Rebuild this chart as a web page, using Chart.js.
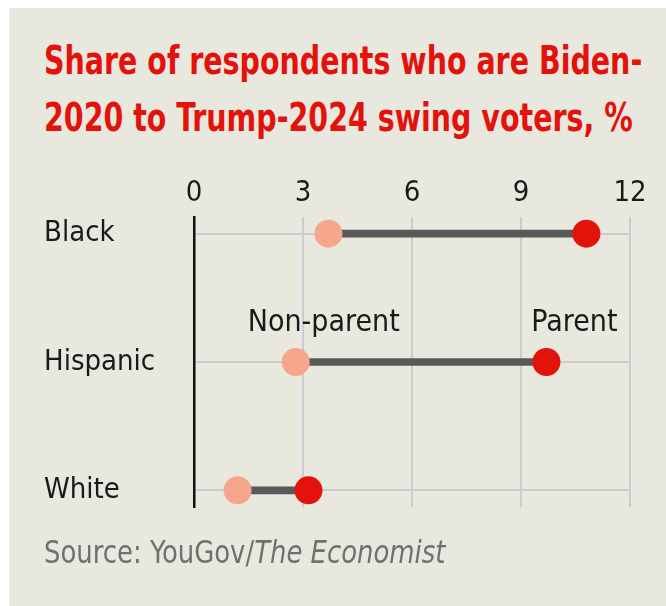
<!DOCTYPE html>
<html>
<head>
<meta charset="utf-8">
<script src="https://cdn.jsdelivr.net/npm/chart.js@4.4.0/dist/chart.umd.min.js"></script>
<style>
  html, body { margin: 0; padding: 0; background: #ffffff; }
  body { width: 666px; height: 606px; position: relative; overflow: hidden; }
  .panel { position: absolute; left: 9px; top: 8px; width: 657px; height: 598px; background: #e9e8df; }
  .title {
    position: absolute; left: 44px; top: 32px; margin: 0;
    font-family: "Liberation Sans Narrow", "DejaVu Sans Condensed", Roboto, sans-serif;
    font-stretch: condensed;
    font-weight: bold; font-size: 39px; line-height: 57px; color: #e3120b;
    white-space: nowrap;
    transform: scaleX(0.812); transform-origin: left top;
  }
  .source {
    position: absolute; left: 44px; top: 533px;
    font-family: "Liberation Sans Narrow", "DejaVu Sans Condensed", Roboto, sans-serif;
    font-stretch: condensed;
    font-size: 32px; color: #707070; white-space: nowrap;
    transform: scaleX(0.9); transform-origin: left top;
  }
  canvas { position: absolute; left: 0; top: 0; }
</style>
</head>
<body>
<div class="panel"></div>
<div class="title">Share of respondents who are Biden-<br>2020 to Trump-2024 swing voters, %</div>
<canvas id="chart" width="666" height="606"></canvas>
<div class="source">Source: YouGov/<i>The Economist</i></div>
<script>
const groups = ['Black', 'Hispanic', 'White'];
const nonParent = [3.7, 2.8, 1.2];
const parent = [10.8, 9.7, 3.15];
const xTicks = [0, 3, 6, 9, 12];

const fontFamily = '"Liberation Sans Narrow", "DejaVu Sans Condensed", Roboto, sans-serif';

// labels "Non-parent" / "Parent" sit above the Hispanic row
const labelPlugin = {
    id: 'pointLabels',
    afterDatasetsDraw(chart) {
        const ctx = chart.ctx;
        const x = chart.scales.x;
        const y = chart.scales.y;
        const row = groups.indexOf('Hispanic');
        ctx.save();
        ctx.font = '30px ' + fontFamily;
        ctx.fillStyle = '#1a1a1a';
        ctx.textAlign = 'center';
        ctx.textBaseline = 'alphabetic';
        ctx.fillText('Non-parent', x.getPixelForValue(nonParent[row]) + 28, y.getPixelForValue(row) - 31);
        ctx.fillText('Parent', x.getPixelForValue(parent[row]) + 28, y.getPixelForValue(row) - 31);
        ctx.restore();
    }
};

new Chart(document.getElementById('chart'), {
    type: 'bar',
    data: {
        datasets: [
            {
                type: 'line',
                label: 'Non-parent',
                data: nonParent.map((v, i) => ({ x: v, y: i })),
                showLine: false,
                pointRadius: 14,
                pointBackgroundColor: '#f6a68a',
                pointBorderWidth: 0,
                order: 1
            },
            {
                type: 'line',
                label: 'Parent',
                data: parent.map((v, i) => ({ x: v, y: i })),
                showLine: false,
                pointRadius: 14,
                pointBackgroundColor: '#e3120b',
                pointBorderWidth: 0,
                order: 0
            },
            {
                type: 'bar',
                label: 'Gap',
                data: nonParent.map((v, i) => ({ x: [v, parent[i]], y: i })),
                backgroundColor: '#595959',
                barThickness: 7,
                order: 2
            }
        ]
    },
    options: {
        indexAxis: 'y',
        responsive: false,
        animation: false,
        layout: { padding: { left: 44, right: 36, top: 167, bottom: 99 } },
        plugins: { legend: { display: false }, tooltip: { enabled: false } },
        scales: {
            x: {
                type: 'linear',
                position: 'top',
                min: 0,
                max: 12,
                afterBuildTicks: (axis) => { axis.ticks = xTicks.map(v => ({ value: v })); },
                afterFit: (axis) => { axis.height = 50; },
                grid: { color: '#c9ccd2', lineWidth: 2, drawTicks: false },
                border: { display: false },
                ticks: { color: '#1a1a1a', font: { family: fontFamily, size: 29 }, padding: 6 }
            },
            y: {
                type: 'linear',
                min: -0.13,
                max: 2.13,
                reverse: true,
                offset: false,
                afterBuildTicks: (axis) => { axis.ticks = groups.map((g, i) => ({ value: i })); },
                afterFit: (axis) => { axis.width = 150; },
                grid: { color: '#c9ccd2', lineWidth: 2, drawTicks: false, offset: false },
                border: { display: true, color: '#111111', width: 2.5 },
                ticks: {
                    color: '#1a1a1a',
                    font: { family: fontFamily, size: 29 },
                    crossAlign: 'far',
                    padding: 10,
                    callback: (v) => groups[v]
                }
            }
        }
    },
    plugins: [labelPlugin]
});
</script>
</body>
</html>
